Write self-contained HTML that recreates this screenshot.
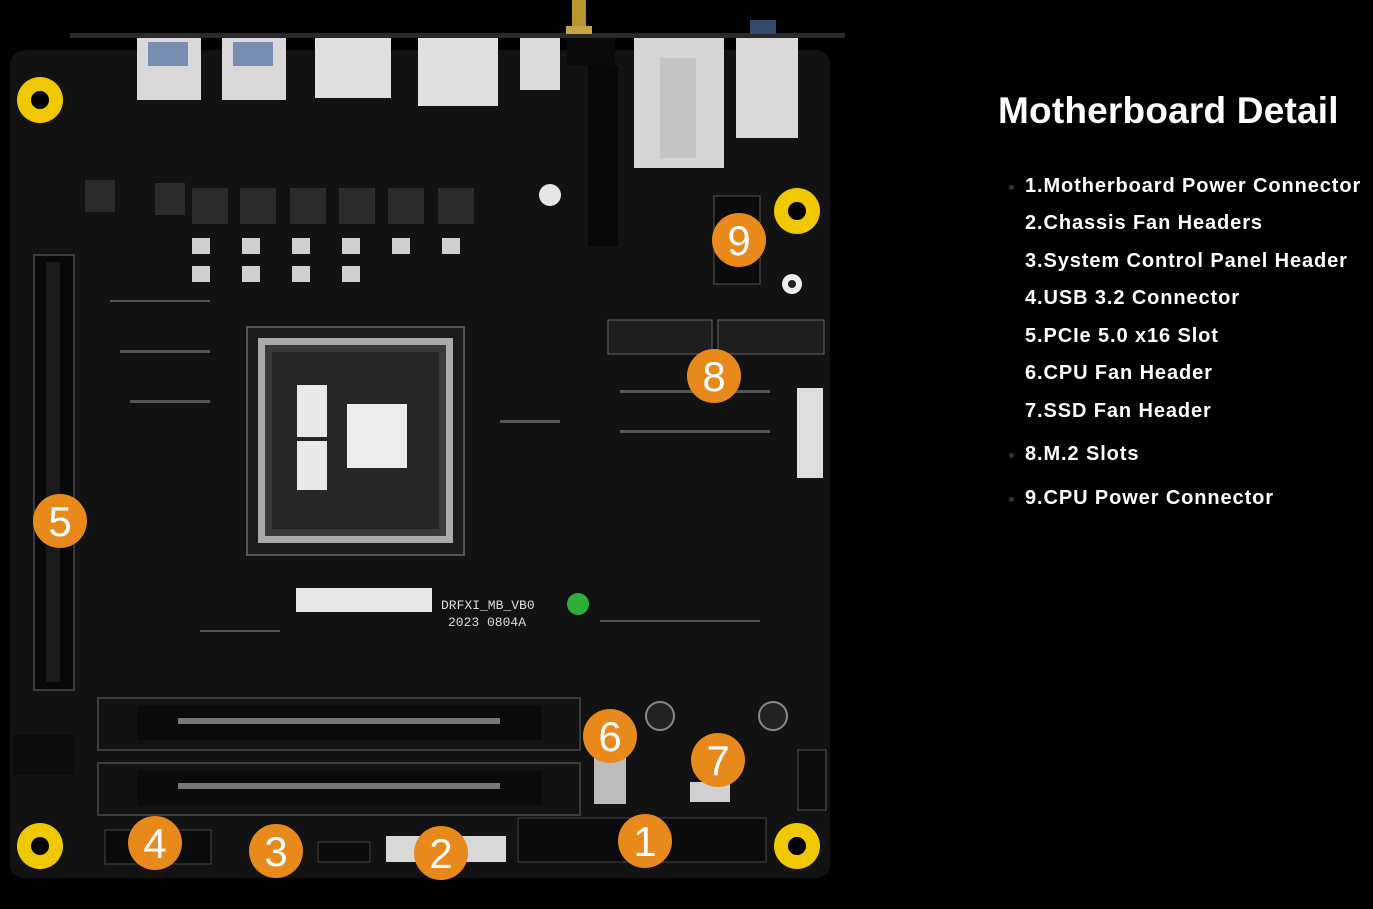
<!DOCTYPE html>
<html><head><meta charset="utf-8"><style>
html,body{margin:0;padding:0;background:#000;}
body{width:1373px;height:909px;overflow:hidden;position:relative;font-family:"Liberation Sans",sans-serif;}
svg{position:absolute;left:0;top:0;}
h1{position:absolute;left:998px;top:90px;margin:0;color:#fff;font-size:37px;font-weight:bold;letter-spacing:0.2px;}
.li{position:absolute;left:1025px;color:#fff;font-weight:bold;font-size:20px;letter-spacing:0.9px;}
.dot{position:absolute;left:1009px;width:5px;height:5px;border-radius:50%;background:#333;}
</style></head><body>
<svg width="1373" height="909" viewBox="0 0 1373 909">
<rect x="0" y="0" width="1373" height="909" fill="#000"/>
<path d="M30 50 H815 Q830 50 830 65 V865 Q830 878 815 878 H25 Q10 878 10 865 V65 Q10 50 30 50Z" fill="#121212"/>
<rect x="70" y="33" width="775" height="5" fill="#2a2a2a"/>
<rect x="572" y="0" width="14" height="28" fill="#b8952e"/>
<rect x="566" y="26" width="26" height="8" fill="#c9a34a"/>
<rect x="750" y="20" width="26" height="14" fill="#344a6a"/>
<rect x="137" y="38" width="64" height="62" fill="#d8d8d8"/>
<rect x="222" y="38" width="64" height="62" fill="#d8d8d8"/>
<rect x="148" y="42" width="40" height="24" fill="#3a5a9a" opacity="0.6"/>
<rect x="233" y="42" width="40" height="24" fill="#3a5a9a" opacity="0.6"/>
<rect x="315" y="38" width="76" height="60" fill="#e0e0e0"/>
<rect x="418" y="38" width="80" height="68" fill="#e0e0e0"/>
<rect x="520" y="38" width="40" height="52" fill="#dcdcdc"/>
<rect x="567" y="38" width="48" height="28" fill="#0a0a0a"/>
<rect x="588" y="66" width="30" height="180" fill="#080808"/>
<rect x="634" y="38" width="90" height="130" fill="#d6d6d6"/>
<rect x="660" y="58" width="36" height="100" fill="#c4c4c4"/>
<rect x="736" y="38" width="62" height="100" fill="#dadada"/>
<g fill="#2b2b2b">
<rect x="192" y="188" width="36" height="36"/><rect x="240" y="188" width="36" height="36"/><rect x="290" y="188" width="36" height="36"/><rect x="339" y="188" width="36" height="36"/><rect x="388" y="188" width="36" height="36"/><rect x="438" y="188" width="36" height="36"/>
<rect x="85" y="180" width="30" height="32"/><rect x="155" y="183" width="30" height="32"/>
</g>
<g fill="#cfcfcf">
<rect x="192" y="238" width="18" height="16"/><rect x="242" y="238" width="18" height="16"/><rect x="292" y="238" width="18" height="16"/><rect x="342" y="238" width="18" height="16"/><rect x="392" y="238" width="18" height="16"/><rect x="442" y="238" width="18" height="16"/>
<rect x="192" y="266" width="18" height="16"/><rect x="242" y="266" width="18" height="16"/><rect x="292" y="266" width="18" height="16"/><rect x="342" y="266" width="18" height="16"/>
</g>
<g fill="#555">
<rect x="110" y="300" width="100" height="2"/><rect x="120" y="350" width="90" height="3"/><rect x="130" y="400" width="80" height="3"/><rect x="500" y="420" width="60" height="3"/><rect x="620" y="390" width="150" height="3"/><rect x="620" y="430" width="150" height="3"/><rect x="600" y="620" width="160" height="2"/><rect x="200" y="630" width="80" height="2"/>
</g>
<circle cx="550" cy="195" r="11" fill="#e6e6e6"/>
<rect x="247" y="327" width="217" height="228" fill="#1c1c1c" stroke="#555" stroke-width="2"/>
<rect x="258" y="338" width="195" height="205" fill="#aaaaaa"/>
<rect x="265" y="345" width="181" height="191" fill="#3a3a3a"/>
<rect x="272" y="352" width="167" height="177" fill="#262626"/>
<rect x="297" y="385" width="30" height="52" fill="#e8e8e8"/>
<rect x="297" y="441" width="30" height="49" fill="#e8e8e8"/>
<rect x="347" y="404" width="60" height="64" fill="#ececec"/>
<rect x="608" y="320" width="104" height="34" fill="#1e1e1e" stroke="#666"/>
<rect x="718" y="320" width="106" height="34" fill="#1e1e1e" stroke="#666"/>
<rect x="797" y="388" width="26" height="90" fill="#ddd"/>
<rect x="34" y="255" width="40" height="435" fill="#080808" stroke="#3a3a3a" stroke-width="2"/>
<rect x="46" y="262" width="14" height="420" fill="#1a1a1a"/>
<rect x="14" y="735" width="60" height="40" fill="#0c0c0c"/>
<rect x="98" y="698" width="482" height="52" fill="none" stroke="#3b3b3b" stroke-width="2"/>
<rect x="98" y="763" width="482" height="52" fill="none" stroke="#3b3b3b" stroke-width="2"/>
<rect x="137" y="706" width="405" height="34" fill="#0a0a0a"/>
<rect x="137" y="771" width="405" height="34" fill="#0a0a0a"/>
<rect x="178" y="718" width="322" height="6" fill="#777"/>
<rect x="178" y="783" width="322" height="6" fill="#777"/>
<rect x="296" y="588" width="136" height="24" fill="#e8e8e8"/>
<circle cx="578" cy="604" r="11" fill="#2fae3a"/>
<rect x="518" y="818" width="248" height="44" fill="#0a0a0a" stroke="#444"/>
<rect x="386" y="836" width="120" height="26" fill="#d8d8d8"/>
<rect x="105" y="830" width="106" height="34" fill="#0a0a0a" stroke="#444"/>
<rect x="318" y="842" width="52" height="20" fill="#0a0a0a" stroke="#444"/>
<rect x="594" y="752" width="32" height="52" fill="#bdbdbd"/>
<rect x="690" y="782" width="40" height="20" fill="#d0d0d0"/>
<rect x="798" y="750" width="28" height="60" fill="#0c0c0c" stroke="#555"/>
<circle cx="660" cy="716" r="14" fill="#222" stroke="#888" stroke-width="2"/>
<circle cx="773" cy="716" r="14" fill="#222" stroke="#888" stroke-width="2"/>
<rect x="714" y="196" width="46" height="88" fill="#0a0a0a" stroke="#555"/>
<circle cx="792" cy="284" r="10" fill="#eee"/><circle cx="792" cy="284" r="4" fill="#222"/>
<g fill="#f0c800"><circle cx="40" cy="100" r="23"/><circle cx="797" cy="211" r="23"/><circle cx="40" cy="846" r="23"/><circle cx="797" cy="846" r="23"/></g>
<g fill="#000"><circle cx="40" cy="100" r="9"/><circle cx="797" cy="211" r="9"/><circle cx="40" cy="846" r="9"/><circle cx="797" cy="846" r="9"/></g>
<g fill="#e8891c">
<circle cx="739" cy="240" r="27"/><circle cx="714" cy="376" r="27"/><circle cx="60" cy="521" r="27"/><circle cx="610" cy="736" r="27"/><circle cx="718" cy="760" r="27"/><circle cx="155" cy="843" r="27"/><circle cx="276" cy="851" r="27"/><circle cx="441" cy="853" r="27"/><circle cx="645" cy="841" r="27"/>
</g>
<g fill="#fff" font-family="Liberation Sans, sans-serif" font-size="42" text-anchor="middle">
<text x="739" y="255">9</text><text x="714" y="391">8</text><text x="60" y="536">5</text><text x="610" y="751">6</text><text x="718" y="775">7</text><text x="155" y="858">4</text><text x="276" y="866">3</text><text x="441" y="868">2</text><text x="645" y="856">1</text>
</g>
<g fill="#ddd" font-family="Liberation Mono, monospace" font-size="13">
<text x="441" y="609">DRFXI_MB_VB0</text><text x="448" y="626">2023 0804A</text>
</g>
</svg>
<h1>Motherboard Detail</h1>
<div class="dot" style="top:185px"></div><div class="li" style="top:175px">1.Motherboard Power Connector</div>
<div class="li" style="top:212px">2.Chassis Fan Headers</div>
<div class="li" style="top:250px">3.System Control Panel Header</div>
<div class="li" style="top:287px">4.USB 3.2 Connector</div>
<div class="li" style="top:325px">5.PCIe 5.0 x16 Slot</div>
<div class="li" style="top:362px">6.CPU Fan Header</div>
<div class="li" style="top:400px">7.SSD Fan Header</div>
<div class="dot" style="top:453px"></div><div class="li" style="top:443px">8.M.2 Slots</div>
<div class="dot" style="top:497px"></div><div class="li" style="top:487px">9.CPU Power Connector</div>
</body></html>
